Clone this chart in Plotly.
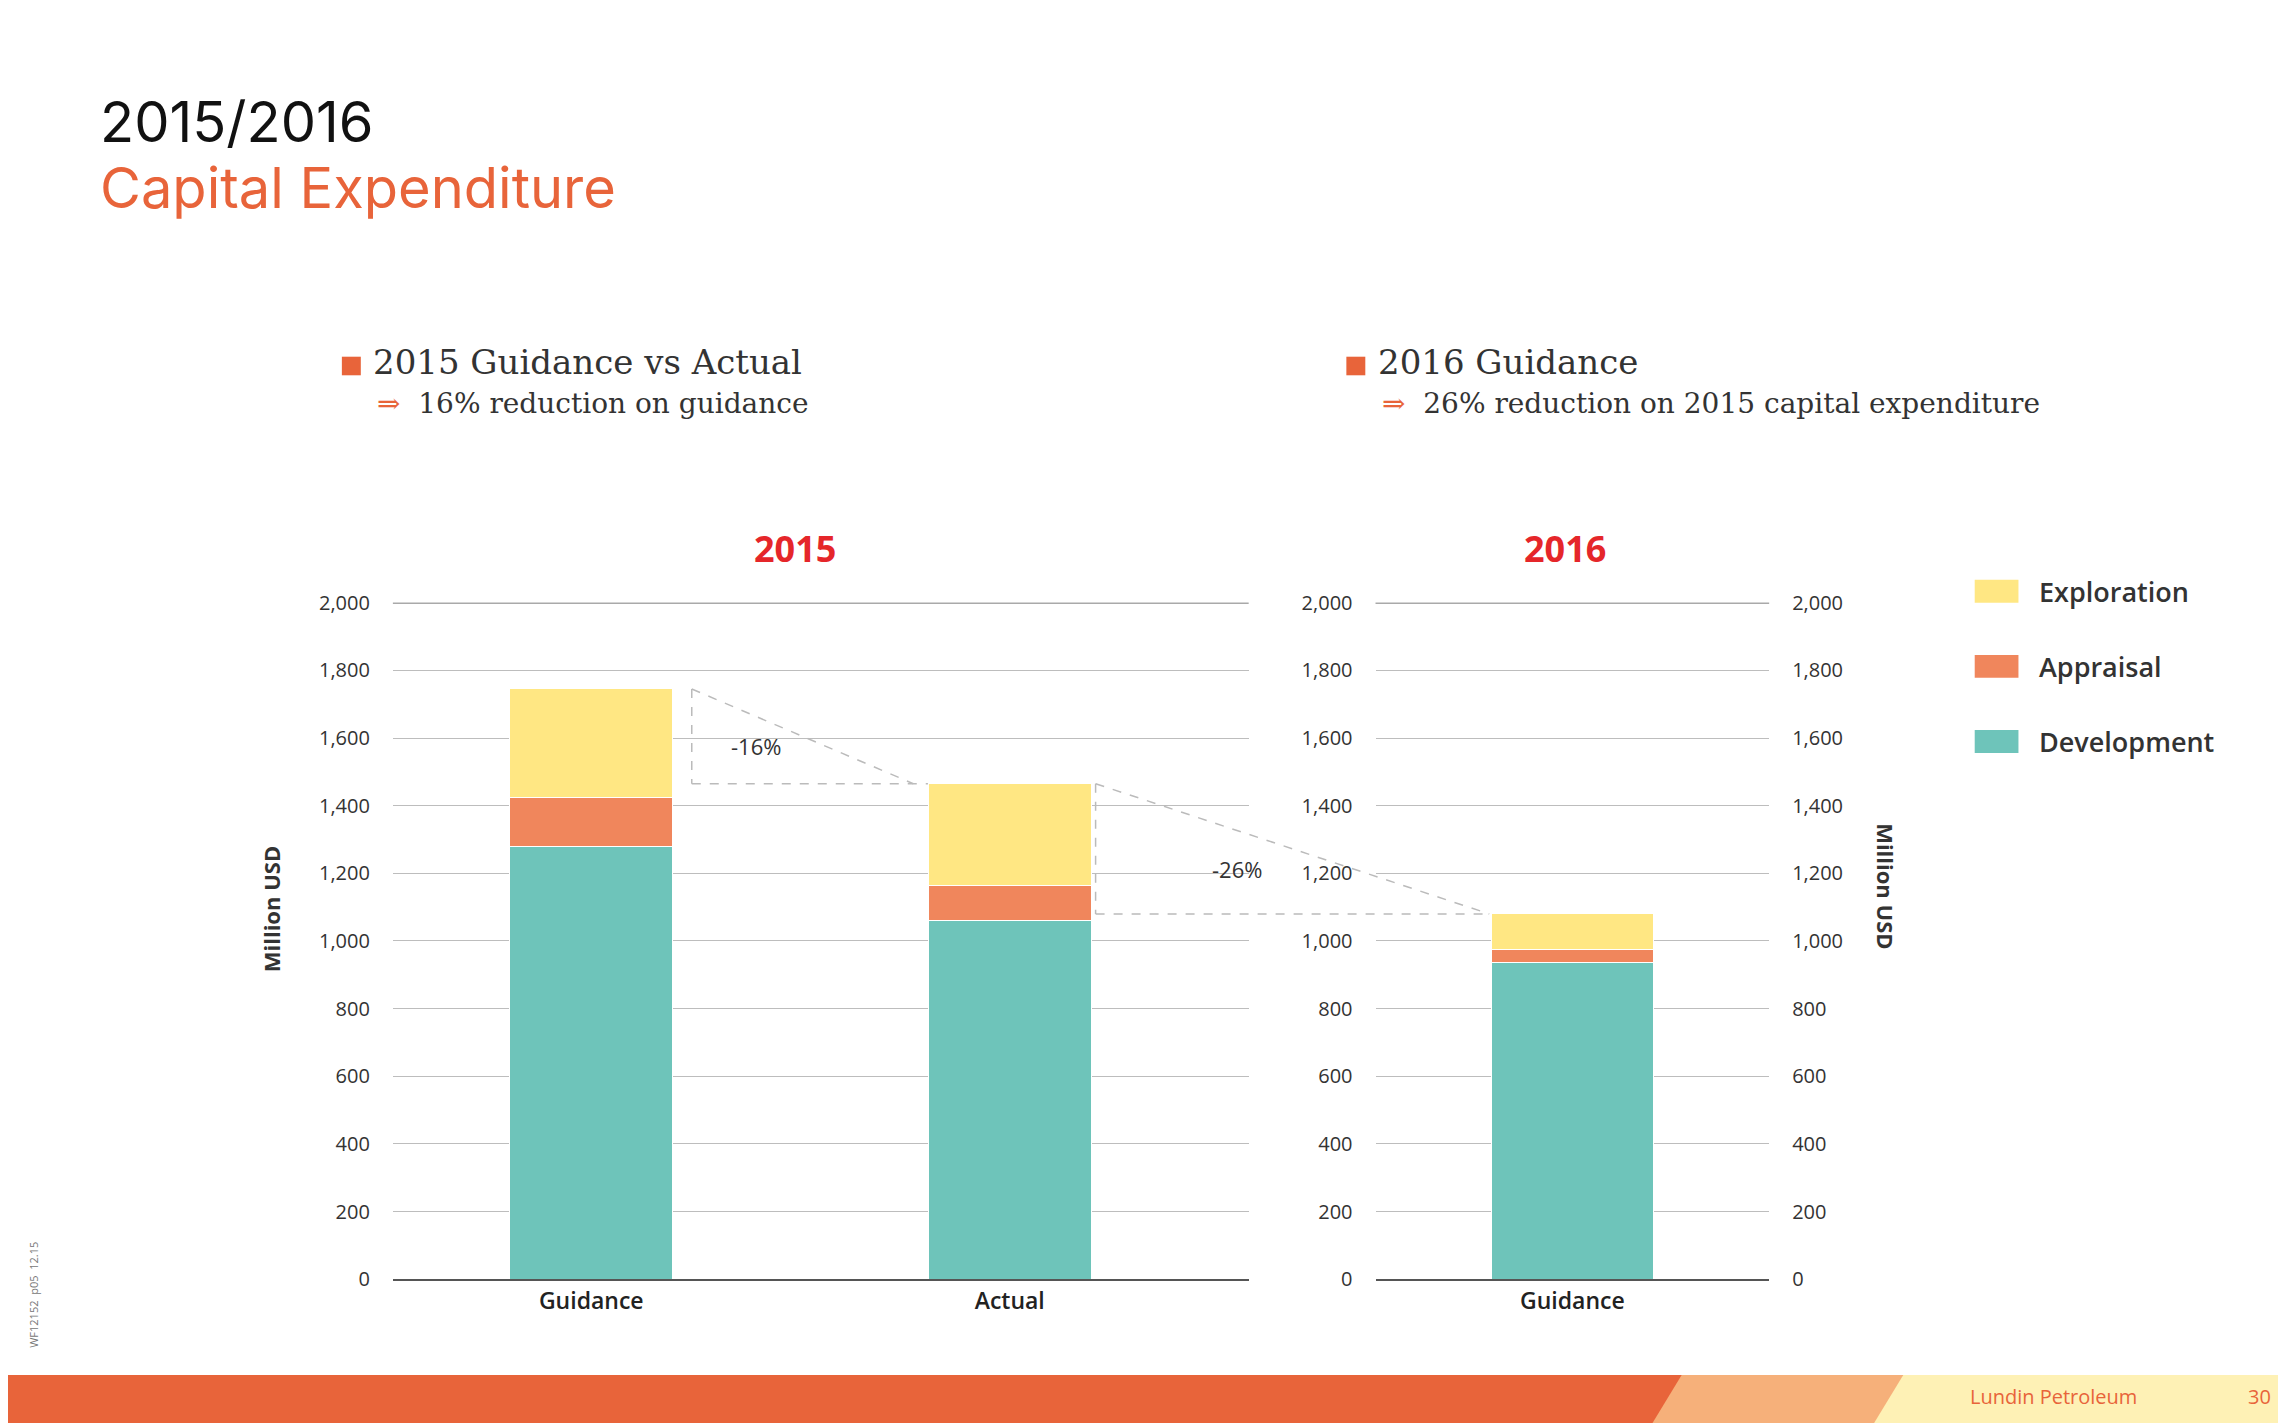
import plotly.graph_objects as go

cats_2015 = ["Guidance", "Actual"]
cats_2016 = ["Guidance"]
dev_2015 = [1280, 1060]
app_2015 = [145, 105]
exp_2015 = [320, 300]
dev_2016 = [935]
app_2016 = [40]
exp_2016 = [105]
ticks = [0, 200, 400, 600, 800, 1000, 1200, 1400, 1600, 1800, 2000]
tick_text = ["0", "200", "400", "600", "800", "1,000", "1,200", "1,400", "1,600", "1,800", "2,000"]
series = ["Exploration", "Appraisal", "Development"]

C_DEV = "#6EC4BA"
C_APP = "#F0865C"
C_EXP = "#FFE783"
ORANGE = "#E8643A"

W, H = 2286, 1428
S = W / 1568  # reference drawn at 1568 px wide

def px(x):
    return x * S / W

def py(y):
    return 1 - y * S / H

fig = go.Figure()
for name, col, v15, v16 in [("Development", C_DEV, dev_2015, dev_2016),
                            ("Appraisal", C_APP, app_2015, app_2016),
                            ("Exploration", C_EXP, exp_2015, exp_2016)]:
    fig.add_trace(go.Bar(x=cats_2015, y=v15, name=name, marker=dict(color=col, line=dict(color="white", width=1)),
                         width=0.39, xaxis="x", yaxis="y", showlegend=False))
    fig.add_trace(go.Bar(x=cats_2016, y=v16, name=name, marker=dict(color=col, line=dict(color="white", width=1)),
                         width=0.41, xaxis="x2", yaxis="y2", showlegend=False))
fig.add_trace(go.Scatter(x=cats_2016, y=[0], xaxis="x2", yaxis="y3", mode="markers",
                         marker=dict(opacity=0), showlegend=False, hoverinfo="skip"))

tf = dict(family="Open Sans", size=20, color="#333")
yax = dict(range=[0, 2000], tickvals=ticks, ticktext=tick_text, showgrid=True, gridcolor="#BDBDBD",
           gridwidth=1, zeroline=False, showline=False, ticks="", ticklabelstandoff=22, tickfont=tf)
xf = dict(family="Open Sans", size=23, color="#222", weight=600)
fig.update_layout(
    width=W, height=H, paper_bgcolor="white", plot_bgcolor="white", barmode="stack",
    margin=dict(l=0, r=0, t=0, b=0), showlegend=False,
    xaxis=dict(domain=[px(264), px(851)], showline=True, linecolor="#555", linewidth=1.5, ticks="",
               tickfont=xf, range=[-0.474, 1.571]),
    xaxis2=dict(domain=[px(938), px(1208)], showline=True, linecolor="#555", linewidth=1.5, ticks="",
                tickfont=xf, range=[-0.5, 0.5]),
    yaxis=dict(domain=[py(879), py(406)], anchor="x", **yax),
    yaxis2=dict(domain=[py(879), py(406)], anchor="x2", **yax),
    yaxis3=dict(overlaying="y2", side="right", anchor="x2", range=[0, 2000], tickvals=ticks, ticktext=tick_text,
                showgrid=False, zeroline=False, ticks="", ticklabelstandoff=22, tickfont=tf),
)

shapes = []
for xr in ["x", "x2"]:
    shapes.append(dict(type="line", xref=xr + " domain", yref="y", x0=0, x1=1, y0=2000, y1=2000,
                       line=dict(color="#555", width=1.5)))
dash = dict(color="#BBBBBB", width=1.5, dash="dash")
shapes += [
    dict(type="line", xref="paper", yref="y", x0=px(469), x1=px(621), y0=1745, y1=1465, line=dash),
    dict(type="line", xref="paper", yref="y", x0=px(469), x1=px(631), y0=1465, y1=1465, line=dash),
    dict(type="line", xref="paper", yref="y", x0=px(469), x1=px(469), y0=1745, y1=1465, line=dash),
    dict(type="line", xref="paper", yref="y", x0=px(746), x1=px(1016), y0=1465, y1=1080, line=dash),
    dict(type="line", xref="paper", yref="y", x0=px(746), x1=px(1016), y0=1080, y1=1080, line=dash),
    dict(type="line", xref="paper", yref="y", x0=px(746), x1=px(746), y0=1465, y1=1080, line=dash),
    dict(type="rect", xref="paper", yref="paper", x0=0, x1=1, y0=0, y1=py(946), fillcolor=ORANGE, line_width=0),
    dict(type="path", xref="paper", yref="paper",
         path=f"M {px(1128)},0 L {px(1148)},{py(946)} L 1,{py(946)} L 1,0 Z", fillcolor="#F6B07A", line_width=0),
    dict(type="path", xref="paper", yref="paper",
         path=f"M {px(1280)},0 L {px(1300)},{py(946)} L 1,{py(946)} L 1,0 Z", fillcolor="#FEF1B5", line_width=0),
    dict(type="rect", xref="paper", yref="paper", x0=px(229), x1=px(242), y0=py(247), y1=py(234), fillcolor=ORANGE, line_width=0),
    dict(type="rect", xref="paper", yref="paper", x0=px(918), x1=px(931), y0=py(247), y1=py(234), fillcolor=ORANGE, line_width=0),
]
# legend swatches
for i, col in enumerate([C_EXP, C_APP, C_DEV]):
    yc = 398 + i * 52.5
    shapes.append(dict(type="rect", xref="paper", yref="paper", x0=px(1349), x1=px(1379),
                       y0=py(yc + 8), y1=py(yc - 8), fillcolor=col, line_width=0))
fig.update_layout(shapes=shapes)

ann = [
    dict(text="2015/2016", x=px(62), y=py(70), font=dict(family="Inter", size=56, color="#111")),
    dict(text="Capital Expenditure", x=px(62), y=py(116), font=dict(family="Inter", size=56, color=ORANGE)),
    dict(text="2015 Guidance vs Actual", x=px(249), y=py(238), font=dict(family="DejaVu Serif", size=34, color="#333")),
    dict(text="<span style='color:#E8643A'>⇒</span>  16% reduction on guidance", x=px(252), y=py(267),
         font=dict(family="DejaVu Serif", size=28, color="#333")),
    dict(text="2016 Guidance", x=px(938), y=py(238), font=dict(family="DejaVu Serif", size=34, color="#333")),
    dict(text="<span style='color:#E8643A'>⇒</span>  26% reduction on 2015 capital expenditure", x=px(941), y=py(267),
         font=dict(family="DejaVu Serif", size=28, color="#333")),
    dict(text="<b>2015</b>", x=px(540), y=py(368), xanchor="center", font=dict(family="Open Sans", size=36, color="#E5262A")),
    dict(text="<b>2016</b>", x=px(1068), y=py(368), xanchor="center", font=dict(family="Open Sans", size=36, color="#E5262A")),
    dict(text="-16%", x=px(513), y=py(506), xanchor="center", font=dict(family="Open Sans", size=22, color="#333")),
    dict(text="-26%", x=px(843), y=py(592), xanchor="center", font=dict(family="Open Sans", size=22, color="#333")),
    dict(text="<b>Million USD</b>", x=px(180), y=py(620), xanchor="center", textangle=-90,
         font=dict(family="Open Sans", size=22, color="#333")),
    dict(text="<b>Million USD</b>", x=px(1288), y=py(604), xanchor="center", textangle=90,
         font=dict(family="Open Sans", size=22, color="#333")),
    dict(text="Lundin Petroleum", x=px(1403), y=py(961), xanchor="center", font=dict(family="Open Sans", size=20, color=ORANGE)),
    dict(text="30", x=px(1544), y=py(961), xanchor="center", font=dict(family="Open Sans", size=20, color=ORANGE)),
    dict(text="WF12152  p05  12.15", x=px(17), y=py(890), xanchor="center", textangle=-90,
         font=dict(family="Open Sans", size=11, color="#777")),
]
for i, name in enumerate(series):
    ann.append(dict(text=name, x=px(1392), y=py(398 + i * 52.5),
                    font=dict(family="Open Sans", size=27, color="#333", weight=600)))
for a in ann:
    a.setdefault("xanchor", "left")
    a.update(xref="paper", yref="paper", yanchor="middle", showarrow=False)
fig.update_layout(annotations=ann)

fig.write_html("out.html")
